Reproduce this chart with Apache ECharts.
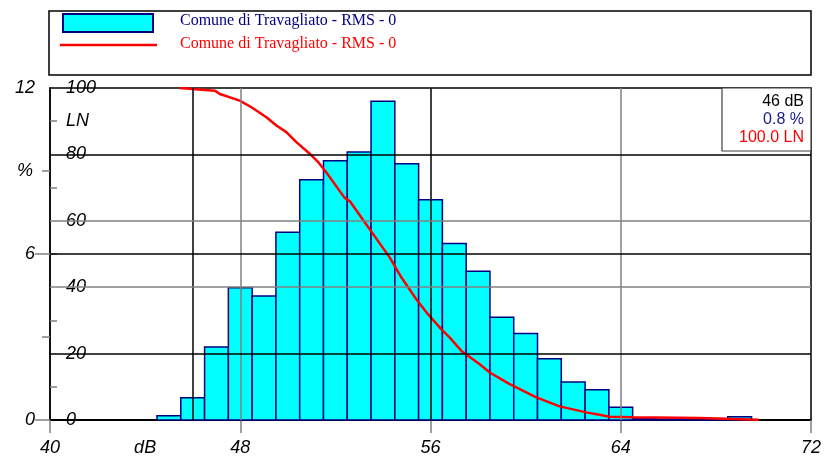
<!DOCTYPE html>
<html>
<head>
<meta charset="utf-8">
<script src="https://cdn.jsdelivr.net/npm/echarts@6/dist/echarts.min.js"></script>
<style>
html,body{margin:0;padding:0;background:#fff;}
#c{width:825px;height:457px;}
</style>
</head>
<body>
<div id="c"></div>
<script>
// ---- data ----
const seriesName = 'Comune di Travagliato - RMS - 0';
const dbBins = [45,46,47,48,49,50,51,52,53,54,55,56,57,58,59,60,61,62,63,64,65,66,67,68,69];
const pctValues = [0.15,0.8,2.64,4.78,4.48,6.79,8.68,9.37,9.69,11.52,9.26,7.96,6.38,5.38,3.71,3.13,2.21,1.37,1.09,0.46,0.05,0.03,0.03,0.05,0.12];
const lnDb = [45.46,46.93,47.14,47.98,48.47,49.1,49.52,49.94,50.36,50.92,51.3,51.63,52.39,52.61,53.45,54.29,54.78,55.41,55.9,56.46,56.81,57.3,58.07,58.49,59.33,60.45,61.43,62.55,63.1,63.53,64.5,67.3,69.8];
const lnValues = [100,99.2,98.2,96.2,94.2,91.2,88.7,86.7,83.7,80.2,77.5,74.5,66.9,65.9,57.4,48.9,42.9,36.3,31.8,27.3,24.8,20.8,16.8,14.3,10.8,6.8,4.1,2.3,1.6,1.0,0.8,0.6,0.1];
const xLabels = [40,44,48,56,64,72];       // 44 shown as unit "dB"
const pctLabels = [0,6,12];
const lnLabels = [0,20,40,60,80,90,100];    // 90 shown as unit "LN"
const cursorDb = 46;
const cursorPct = 0.8;
const cursorLn = 100.0;

const chart = echarts.init(document.getElementById('c'), null, {renderer:'canvas'});
const axisFont = {fontFamily:'Liberation Sans', fontStyle:'italic', fontSize:18, color:'#000'};

const option = {
  animation:false,
  grid:{left:50, right:14, top:88, bottom:36, show:true, borderColor:'#000', borderWidth:1.5, backgroundColor:'transparent'},
  xAxis:{
    type:'value', min:40, max:72, interval:4,
    axisLine:{show:true, lineStyle:{color:'#000', width:2}},
    axisTick:{show:true, customValues:[40,48,56,64,72], length:13, lineStyle:{color:'#808080', width:1.5}},
    axisLabel:Object.assign({customValues:xLabels, margin:19, formatter:v=> v===44?'dB':String(v)}, axisFont),
    splitLine:{show:false}
  },
  yAxis:[
    {type:'value', min:0, max:12, interval:6, position:'left',
     axisLine:{show:true, onZero:false, lineStyle:{color:'#000', width:1.5}},
     axisTick:{show:true, customValues:[0,6], length:15, lineStyle:{color:'#808080', width:1.5}},
     axisLabel:Object.assign({customValues:pctLabels, margin:15}, axisFont),
     splitLine:{show:false}},
    {type:'value', min:0, max:12, interval:3, position:'left',
     axisLine:{show:false},
     axisTick:{show:true, customValues:[3,9], length:8, lineStyle:{color:'#808080', width:1.5}},
     axisLabel:Object.assign({customValues:[9], margin:17, formatter:()=>'%'}, axisFont),
     splitLine:{show:false}},
    {type:'value', min:0, max:100, interval:10, position:'left',
     axisLine:{show:false},
     axisTick:{show:true, inside:true, customValues:[10,30,50,70,90], length:7, lineStyle:{color:'#808080', width:1.5}},
     axisLabel:Object.assign({customValues:lnLabels, inside:true, margin:16, formatter:v=> v===90?'LN':String(v)}, axisFont),
     splitLine:{show:false}}
  ],
  series:[
    {type:'line', name:'grid', data:[], z:1, silent:true,
     markLine:{silent:true, symbol:['none','none'], label:{show:false}, animation:false,
       data:[
         {xAxis:cursorDb, lineStyle:{color:'#000', width:1.5, type:'solid'}},
         {xAxis:48, lineStyle:{color:'#808080', width:1.5, type:'solid'}},
         {xAxis:56, lineStyle:{color:'#000', width:1.5, type:'solid'}},
         {xAxis:64, lineStyle:{color:'#808080', width:1.5, type:'solid'}},
         {yAxis:80, lineStyle:{color:'#000', width:1.5, type:'solid'}},
         {yAxis:60, lineStyle:{color:'#808080', width:1.5, type:'solid'}},
         {yAxis:50, lineStyle:{color:'#000', width:1.5, type:'solid'}},
         {yAxis:40, lineStyle:{color:'#808080', width:1.5, type:'solid'}},
         {yAxis:20, lineStyle:{color:'#000', width:1.5, type:'solid'}}
       ]},
     xAxisIndex:0, yAxisIndex:2},
    {type:'custom', name:seriesName, xAxisIndex:0, yAxisIndex:0, z:2,
     data:dbBins.map((d,i)=>[d,pctValues[i]]),
     renderItem:(params, api)=>{
       const x = api.value(0), y = api.value(1);
       const p1 = api.coord([x-0.5, y]);
       const p2 = api.coord([x+0.5, 0]);
       return {type:'rect', shape:{x:p1[0], y:p1[1], width:p2[0]-p1[0], height:p2[1]-p1[1]},
               style:{fill:'#00FFFF', stroke:'#000080', lineWidth:1.5}};
     }},
    {type:'line', name:seriesName+' ', xAxisIndex:0, yAxisIndex:2, z:3,
     data:lnDb.map((d,i)=>[d,lnValues[i]]),
     showSymbol:false, symbol:'none', smooth:false,
     lineStyle:{color:'#FF0000', width:2.5}}
  ],
  graphic:[
    // legend box
    {type:'rect', shape:{x:49, y:11, width:762, height:64}, style:{fill:'#fff', stroke:'#000', lineWidth:1.5}, z:10},
    {type:'rect', shape:{x:63, y:14, width:90, height:18}, style:{fill:'#00FFFF', stroke:'#000080', lineWidth:2}, z:11},
    {type:'line', shape:{x1:60, y1:45, x2:157, y2:45}, style:{stroke:'#FF0000', lineWidth:2.5}, z:11},
    {type:'text', x:180, y:21, style:{text:seriesName, fill:'#000080', font:'16px "Liberation Serif"', textVerticalAlign:'middle'}, z:11},
    {type:'text', x:180, y:44, style:{text:seriesName, fill:'#FF0000', font:'16px "Liberation Serif"', textVerticalAlign:'middle'}, z:11},
    // cursor info box
    {type:'rect', shape:{x:722, y:88, width:89, height:63}, style:{fill:'#fff', stroke:'#404040', lineWidth:1.2}, z:10},
    {type:'text', x:804, y:102, style:{text:cursorDb+' dB', fill:'#000', font:'16px "Liberation Sans"', textAlign:'right', textVerticalAlign:'middle'}, z:11},
    {type:'text', x:804, y:120, style:{text:cursorPct.toFixed(1)+' %', fill:'#1a1a8c', font:'16px "Liberation Sans"', textAlign:'right', textVerticalAlign:'middle'}, z:11},
    {type:'text', x:804, y:138, style:{text:cursorLn.toFixed(1)+' LN', fill:'#FF0000', font:'16px "Liberation Sans"', textAlign:'right', textVerticalAlign:'middle'}, z:11}
  ]
};
chart.setOption(option);
</script>
</body>
</html>
